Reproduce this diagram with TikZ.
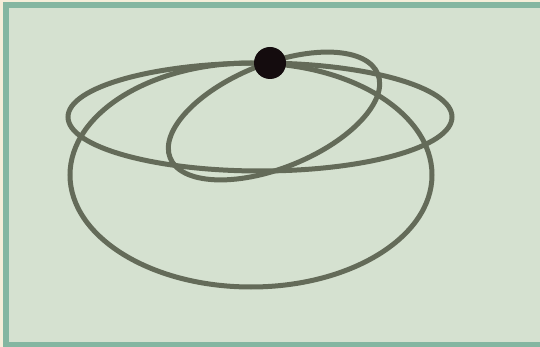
\documentclass[tikz,border=0pt]{standalone}
\usepackage{tikz}
\usetikzlibrary{calc}
\usepackage{xcolor}
\definecolor{paper}{HTML}{F5EEDA}
\definecolor{panel}{HTML}{D5E1D0}
\definecolor{frame}{HTML}{84B6A1}
\definecolor{orbitgray}{HTML}{646B59}
\definecolor{dotblack}{HTML}{140C0E}

\begin{document}
\begin{tikzpicture}[x=1pt, y=-1pt, orbit/.style={orbitgray, line width=5pt}]
    \useasboundingbox (0,0) rectangle (540,347);
    \clip (0,0) rectangle (540,347);
    \fill[paper] (0,0) rectangle (540,347);
    \draw[frame, fill=panel, line width=6pt] (6,5.5) rectangle (552,344.5);

    \coordinate (flatC) at (260,117);
    \coordinate (bowlC) at (251,175);
    \coordinate (tiltC) at (274,116);
    \coordinate (focus) at (270,63);

    \draw[orbit] (bowlC) ellipse (181 and 112);
    \draw[orbit] (flatC) ellipse (192 and 54);
    \draw[orbit, rotate around={22:(tiltC)}] (tiltC) ellipse (112 and 52);
    \fill[dotblack] (focus) circle (16);
\end{tikzpicture}
\end{document}
